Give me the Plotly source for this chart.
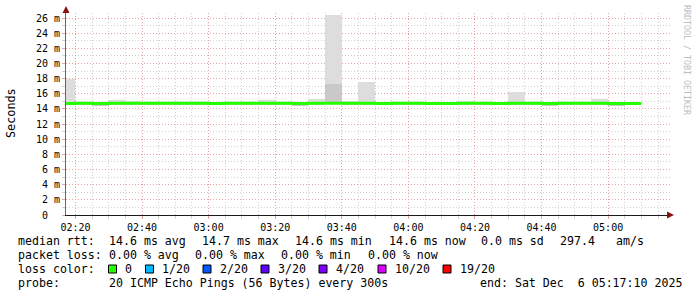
import plotly.graph_objects as go

# ---------------- data ----------------
day = "2025-12-06 "
bin_start = ["02:15", "02:20", "02:25", "02:30", "02:35", "02:40", "02:45", "02:50", "02:55",
             "03:00", "03:05", "03:10", "03:15", "03:20", "03:25", "03:30", "03:35", "03:40",
             "03:45", "03:50", "03:55", "04:00", "04:05", "04:10", "04:15", "04:20", "04:25",
             "04:30", "04:35", "04:40", "04:45", "04:50", "04:55", "05:00", "05:05"]
bin_center = ["02:17:30", "02:22:30", "02:27:30", "02:32:30", "02:37:30", "02:42:30", "02:47:30",
              "02:52:30", "02:57:30", "03:02:30", "03:07:30", "03:12:30", "03:17:30", "03:22:30",
              "03:27:30", "03:32:30", "03:37:30", "03:42:30", "03:47:30", "03:52:30", "03:57:30",
              "04:02:30", "04:07:30", "04:12:30", "04:17:30", "04:22:30", "04:27:30", "04:32:30",
              "04:37:30", "04:42:30", "04:47:30", "04:52:30", "04:57:30", "05:02:30", "05:07:30"]
line_end = "05:10"

smoke_low = [14.6, 14.6, 14.45, 14.6, 14.6, 14.6, 14.6, 14.6, 14.6, 14.6, 14.6, 14.6, 14.6, 14.6,
             14.45, 14.6, 14.6, 14.6, 14.6, 14.5, 14.6, 14.6, 14.5, 14.5, 14.6, 14.6, 14.5, 14.6,
             14.6, 14.45, 14.6, 14.6, 14.6, 14.45, 14.6]
smoke_high = [18.0, 14.85, 14.9, 15.15, 15.05, 14.85, 14.85, 14.85, 14.85, 14.95, 14.85, 14.85,
              15.15, 14.85, 14.85, 15.3, 26.4, 15.0, 17.55, 14.85, 14.85, 14.85, 14.85, 14.85,
              15.05, 14.85, 14.85, 16.2, 14.85, 14.85, 14.85, 14.95, 15.3, 14.85, 14.8]
smoke_inner_high = [14.8, 14.8, 14.8, 14.8, 14.8, 14.8, 14.8, 14.8, 14.8, 14.8, 14.8, 14.8,
                    14.8, 14.8, 14.8, 14.8, 17.3, 14.8, 14.8, 14.8, 14.8, 14.8, 14.8, 14.8,
                    14.8, 14.8, 14.8, 14.8, 14.8, 14.8, 14.8, 14.8, 14.8, 14.8, 14.8]
median = [14.72, 14.75, 14.72, 14.75, 14.75, 14.75, 14.75, 14.75, 14.75, 14.72, 14.75, 14.75,
          14.75, 14.75, 14.72, 14.75, 14.75, 14.75, 14.75, 14.72, 14.75, 14.75, 14.72, 14.72,
          14.75, 14.75, 14.72, 14.75, 14.75, 14.72, 14.75, 14.75, 14.75, 14.72, 14.72]

y_ticks = [0, 2, 4, 6, 8, 10, 12, 14, 16, 18, 20, 22, 24, 26]
y_ticktext = ["0\u00a0\u00a0", "2 m", "4 m", "6 m", "8 m", "10 m", "12 m", "14 m", "16 m",
              "18 m", "20 m", "22 m", "24 m", "26 m"]

loss_labels = ["0", "1/20", "2/20", "3/20", "4/20", "10/20", "19/20"]
loss_colors = ["#26ff00", "#00b8ff", "#0059ff", "#5e00ff", "#7e00ff", "#dd00ff", "#ff0000"]

stats_rows = [
    ["median rtt:", "14.6 ms avg", "14.7 ms max", "14.6 ms min", "14.6 ms now", "0.0 ms sd",
     "297.4", "am/s"],
    ["packet loss:", "0.00 % avg", "0.00 % max", "0.00 % min", "0.00 % now"],
]
probe_label = "probe:"
probe_text = "20 ICMP Echo Pings (56 Bytes) every 300s"
end_text = "end: Sat Dec  6 05:17:10 2025"
y_title = "Seconds"
watermark = "RRDTOOL / TOBI OETIKER"

# ---------------- layout helpers (pixel -> paper) ----------------
W, H = 697, 297
PL, PR, PT, PB = 66, 670, 13, 215


def px(x):
    return (x - PL) / (PR - PL)


def py(y):
    return (PB - y) / (PB - PT)


MONO = "DejaVu Sans Mono"

fig = go.Figure()

# outer smoke
fig.add_trace(go.Bar(
    x=[day + t for t in bin_center],
    y=[h - l for h, l in zip(smoke_high, smoke_low)],
    base=smoke_low,
    width=300000,
    marker=dict(color="#dddddd", line=dict(width=0)),
    hoverinfo="skip", showlegend=False,
))
# inner smoke
fig.add_trace(go.Bar(
    x=[day + t for t in bin_center],
    y=[h - l for h, l in zip(smoke_inner_high, smoke_low)],
    base=smoke_low,
    width=300000,
    marker=dict(color="#c9c9c9", line=dict(width=0)),
    hoverinfo="skip", showlegend=False,
))
# median line
fig.add_trace(go.Scatter(
    x=[day + t for t in bin_start] + [day + line_end],
    y=median + [median[-1]],
    mode="lines",
    line=dict(color="#26ff00", width=3, shape="hv"),
    hoverinfo="skip", showlegend=False,
))

fig.update_layout(
    width=W, height=H,
    margin=dict(l=PL, r=W - PR, t=PT, b=H - PB),
    paper_bgcolor="white", plot_bgcolor="white",
    barmode="overlay", bargap=0,
    font=dict(family=MONO, size=10, color="#000"),
)

fig.update_xaxes(
    type="date",
    range=[day + "02:17:10", day + "05:18:35"],
    tick0=day + "02:20", dtick=1200000,
    tickformat="%H:%M",
    showgrid=True, gridcolor="#e9a3a3", griddash="1px,2px", gridwidth=1,
    minor=dict(dtick=300000, showgrid=True, gridcolor="#d2d2d2", griddash="1px,2px",
               ticks="outside", ticklen=3, tickcolor="#d2d2d2"),
    ticks="outside", ticklen=3, tickcolor="#e9a3a3",
    showline=True, linecolor="#1a1a1a", linewidth=1,
    zeroline=False,
    tickfont=dict(family=MONO, size=10, color="#000"),
    fixedrange=True,
)
fig.update_yaxes(
    range=[0, (PB - PT) / 7.577],
    tickmode="array", tickvals=y_ticks, ticktext=y_ticktext,
    showgrid=True, gridcolor="#e9a3a3", griddash="1px,2px", gridwidth=1,
    minor=dict(dtick=1, tick0=0, showgrid=True, gridcolor="#d2d2d2", griddash="1px,2px",
               ticks="outside", ticklen=3, tickcolor="#d2d2d2"),
    ticks="outside", ticklen=3, tickcolor="#e9a3a3",
    showline=True, linecolor="#666", linewidth=1,
    zeroline=False,
    tickfont=dict(family=MONO, size=10, color="#000"),
    fixedrange=True,
)

ann = []
shapes = []

# axis arrows
shapes.append(dict(type="path", xref="paper", yref="paper",
                   path=f"M {px(66)} {py(6)} L {px(62.5)} {py(13)} L {px(69.5)} {py(13)} Z",
                   fillcolor="#8b1010", line=dict(width=0)))
shapes.append(dict(type="path", xref="paper", yref="paper",
                   path=f"M {px(674)} {py(215)} L {px(667)} {py(211.5)} L {px(667)} {py(218.5)} Z",
                   fillcolor="#8b1010", line=dict(width=0)))

# y title
ann.append(dict(text=y_title, xref="paper", yref="paper", x=px(11), y=py(113),
                textangle=-90, showarrow=False, xanchor="center", yanchor="middle",
                font=dict(family=MONO, size=11.8, color="#000")))
# watermark
ann.append(dict(text=watermark, xref="paper", yref="paper", x=px(687), y=py(60),
                textangle=90, showarrow=False, xanchor="center", yanchor="middle",
                font=dict(family=MONO, size=8.3, color="#bdbdbd")))

TS = 11.6
row_y = [241, 255, 269, 283]
row_x = [
    [16, 107.3, 200, 293.3, 386.7, 479.3, 558.3, 614.3],
    [16, 107.3, 193.3, 279.3, 365.7],
]
for r, (texts, xs) in enumerate(zip(stats_rows, row_x)):
    for t, x in zip(texts, xs):
        ann.append(dict(text=t, xref="paper", yref="paper", x=px(x), y=py(row_y[r]),
                        showarrow=False, xanchor="left", yanchor="middle",
                        font=dict(family=MONO, size=TS, color="#000")))

# loss color row
ann.append(dict(text="loss color:", xref="paper", yref="paper", x=px(16), y=py(row_y[2]),
                showarrow=False, xanchor="left", yanchor="middle",
                font=dict(family=MONO, size=TS, color="#000")))
sq_x = [108.5, 145.5, 203, 261, 319, 378, 443]
for lab, col, sx in zip(loss_labels, loss_colors, sq_x):
    shapes.append(dict(type="rect", xref="paper", yref="paper",
                       x0=px(sx), x1=px(sx + 8), y0=py(row_y[2] + 4), y1=py(row_y[2] - 4),
                       fillcolor=col, line=dict(color="#000", width=1)))
    ann.append(dict(text=lab, xref="paper", yref="paper", x=px(sx + 14.5), y=py(row_y[2]),
                    showarrow=False, xanchor="left", yanchor="middle",
                    font=dict(family=MONO, size=TS, color="#000")))

# probe row
for t, x in [(probe_label, 16), (probe_text, 107.3), (end_text, 478.3)]:
    ann.append(dict(text=t, xref="paper", yref="paper", x=px(x), y=py(row_y[3]),
                    showarrow=False, xanchor="left", yanchor="middle",
                    font=dict(family=MONO, size=TS, color="#000")))

fig.update_layout(annotations=ann, shapes=shapes)

fig.write_html("out.html", config={"displayModeBar": False})
